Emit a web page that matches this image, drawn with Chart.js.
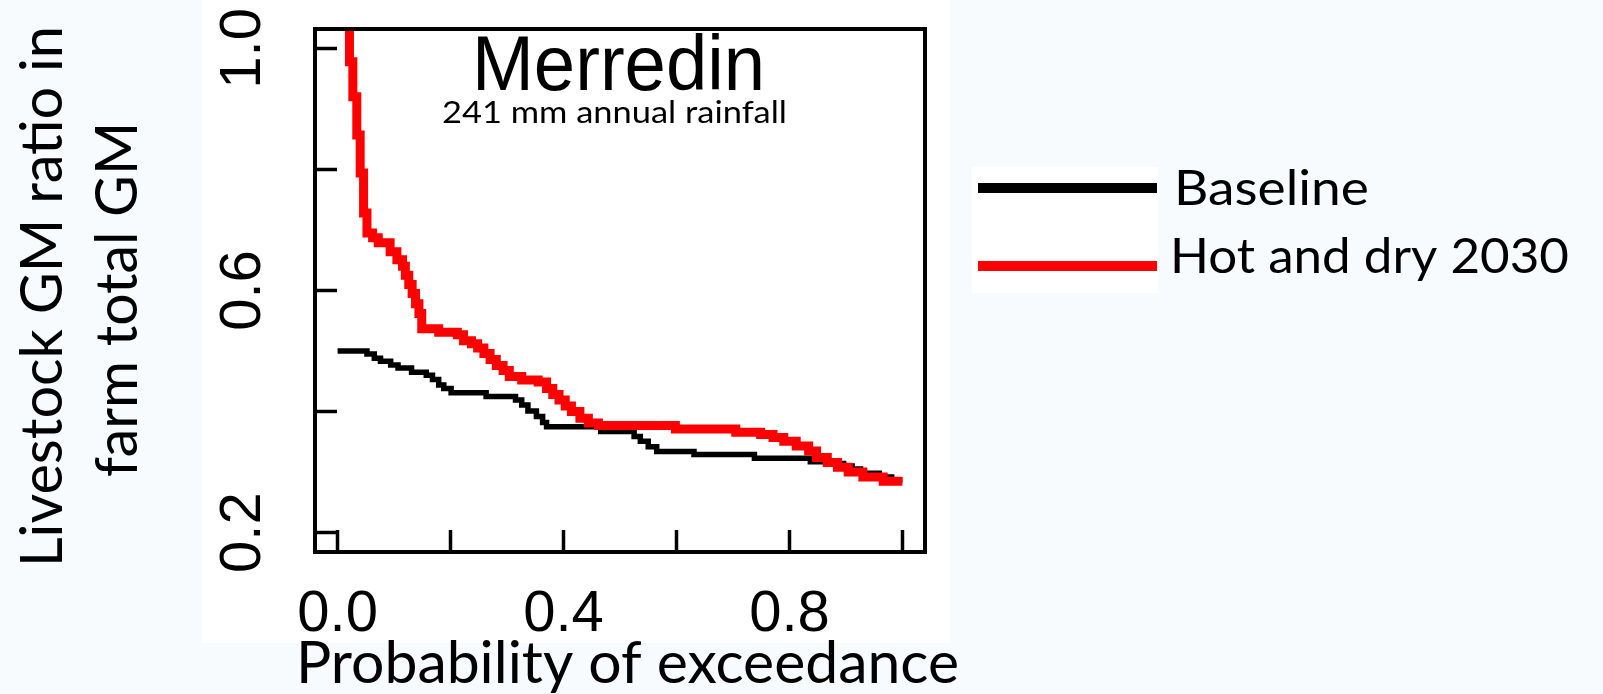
<!DOCTYPE html>
<html>
<head>
<meta charset="utf-8">
<script src="https://cdn.jsdelivr.net/npm/chart.js@4.4.1/dist/chart.umd.min.js"></script>
<style>
    html, body { margin: 0; padding: 0; background: #f7fbfe; }
    #wrap { width: 1603px; height: 694px; }
</style>
</head>
<body>
<div id="wrap"><canvas id="chart" width="1603" height="694"></canvas></div>
<script>
// axis ticks
var xTicks = [0, 0.2, 0.4, 0.6, 0.8, 1.0]
var xTickLabels = ["0.0", "", "0.4", "", "0.8", ""]
var yTicks = [0.2, 0.4, 0.6, 0.8, 1.0]
var yTickLabels = ["0.2", "", "0.6", "", "1.0"]

// Baseline (black) - probability of exceedance vs ratio
var baselineX = [0.000, 0.052, 0.065, 0.076, 0.094, 0.107, 0.131, 0.157, 0.168, 0.179, 0.188, 0.201, 0.263, 0.315, 0.326, 0.337, 0.352, 0.363, 0.370, 0.466, 0.525, 0.536, 0.550, 0.565, 0.631, 0.738, 0.837, 0.885, 0.896, 0.911, 0.926, 0.959, 0.981, 1.000]
var baselineY = [0.500, 0.495, 0.488, 0.483, 0.477, 0.472, 0.465, 0.460, 0.453, 0.444, 0.438, 0.431, 0.425, 0.419, 0.411, 0.401, 0.392, 0.382, 0.375, 0.367, 0.359, 0.351, 0.342, 0.334, 0.329, 0.323, 0.317, 0.314, 0.310, 0.305, 0.298, 0.292, 0.287, 0.287]

// Hot and dry 2030 (red)
var hotDryX = [0.000, 0.021, 0.027, 0.034, 0.040, 0.046, 0.052, 0.062, 0.072, 0.093, 0.105, 0.115, 0.120, 0.126, 0.132, 0.138, 0.144, 0.149, 0.179, 0.212, 0.223, 0.237, 0.248, 0.259, 0.270, 0.281, 0.293, 0.304, 0.326, 0.355, 0.370, 0.381, 0.392, 0.403, 0.414, 0.429, 0.444, 0.462, 0.598, 0.705, 0.749, 0.771, 0.790, 0.812, 0.834, 0.848, 0.867, 0.885, 0.904, 0.930, 0.966, 1.000]
var hotDryY = [1.100, 0.978, 0.920, 0.857, 0.794, 0.728, 0.695, 0.687, 0.679, 0.664, 0.651, 0.640, 0.625, 0.610, 0.595, 0.578, 0.562, 0.537, 0.531, 0.527, 0.517, 0.512, 0.505, 0.496, 0.486, 0.476, 0.468, 0.458, 0.452, 0.449, 0.438, 0.428, 0.419, 0.409, 0.400, 0.389, 0.381, 0.377, 0.371, 0.366, 0.362, 0.357, 0.351, 0.343, 0.335, 0.324, 0.316, 0.308, 0.300, 0.292, 0.285, 0.285]

var seriesNames = ["Baseline", "Hot and dry 2030"]
var seriesColors = ["#000000", "#ff0000"]
var xTitle = "Probability of exceedance"
var yTitle = ["Livestock GM ratio in", "farm total GM"]

function toPoints(xs, ys) {
    var pts = []
    for (var i = 0; i < xs.length; i++) {
        pts.push({ x: xs[i], y: ys[i] })
    }
    return pts
}

// draw text squeezed/stretched to a given width (optionally turned to read bottom-up)
function fitText(ctx, text, font, left, baseline, width, upright) {
    ctx.save()
    ctx.font = font
    ctx.textAlign = "left"
    ctx.textBaseline = "alphabetic"
    var w = ctx.measureText(text).width
    if (upright) {
        // left = y where the text starts (bottom), baseline = x of the baseline
        ctx.translate(baseline, left)
        ctx.rotate(-Math.PI / 2)
    } else {
        ctx.translate(left, baseline)
    }
    ctx.scale(width / w, 1)
    ctx.fillStyle = "#000"
    ctx.fillText(text, 0, 0)
    ctx.restore()
}

var backdrop = {
    id: "backdrop",
    beforeDraw: function (chart) {
        var ctx = chart.ctx
        ctx.save()
        ctx.fillStyle = "#f7fbfe"
        ctx.fillRect(0, 0, chart.width, chart.height)
        ctx.fillStyle = "#ffffff"
        ctx.fillRect(202, 0, 748, 643)
        ctx.fillRect(972, 167, 186, 126)
        ctx.restore()
    }
}

var frameAndText = {
    id: "frameAndText",
    afterDatasetsDraw: function (chart) {
        var ctx = chart.ctx
        var a = chart.chartArea
        ctx.save()
        ctx.strokeStyle = "#000"
        ctx.lineWidth = 4
        ctx.strokeRect(a.left, a.top, a.right - a.left, a.bottom - a.top)
        ctx.restore()

        fitText(ctx, "Merredin", "78px 'Liberation Sans'", 472, 90, 293)
        fitText(ctx, "241 mm annual rainfall", "31px Lato", 442, 123, 345)

        // axis titles
        fitText(ctx, xTitle, "58px Lato", 296, 683, 663)
        fitText(ctx, yTitle[0], "58px Lato", 567, 62, 541, true)
        fitText(ctx, yTitle[1], "58px Lato", 477, 137, 355, true)

        // legend
        var ys = [188, 266]
        var textBase = [205, 273]
        var textLeft = [1174, 1170]
        var textW = [195, 399]
        for (var i = 0; i < seriesNames.length; i++) {
            ctx.save()
            ctx.fillStyle = chart.data.datasets[i].borderColor
            ctx.fillRect(978, ys[i] - 5, 179, 10)
            ctx.restore()
            fitText(ctx, seriesNames[i], "48px Lato", textLeft[i], textBase[i], textW[i])
        }
    }
}

var ctx = document.getElementById("chart").getContext("2d")
var chart = new Chart(ctx, {
    type: "line",
    data: {
        datasets: [{
            label: seriesNames[0],
            data: toPoints(baselineX, baselineY),
            borderColor: seriesColors[0],
            backgroundColor: seriesColors[0],
            borderWidth: 5.5,
            stepped: true,
            pointRadius: 0,
            fill: false,
            clip: 0,
            order: 2
        }, {
            label: seriesNames[1],
            data: toPoints(hotDryX, hotDryY),
            borderColor: seriesColors[1],
            backgroundColor: seriesColors[1],
            borderWidth: 9,
            stepped: true,
            pointRadius: 0,
            fill: false,
            clip: 0,
            order: 1
        }]
    },
    options: {
        responsive: false,
        animation: false,
        devicePixelRatio: 1,
        layout: { padding: { left: 0, right: 678, top: 29, bottom: 0 } },
        plugins: {
            legend: { display: false },
            tooltip: { enabled: false }
        },
        scales: {
            x: {
                type: "linear",
                min: -0.04,
                max: 1.04,
                afterBuildTicks: function (scale) {
                    scale.ticks = xTicks.map(function (v) { return { value: v } })
                },
                afterFit: function (scale) {
                    scale.height = 142
                    scale.paddingLeft = 0
                    scale.paddingRight = 0
                },
                ticks: {
                    autoSkip: false,
                    maxRotation: 0,
                    padding: 56,
                    color: "#000",
                    font: { family: "'Liberation Sans'", size: 58, lineHeight: 1.0 },
                    callback: function (value, index) { return xTickLabels[index] }
                },
                grid: { drawOnChartArea: false, color: "#000", tickLength: -22, tickWidth: 3.5 },
                border: { display: false }
            },
            y: {
                type: "linear",
                min: 0.168,
                max: 1.032,
                afterBuildTicks: function (scale) {
                    scale.ticks = yTicks.map(function (v) { return { value: v } })
                },
                afterFit: function (scale) {
                    scale.width = 315
                    scale.paddingTop = 0
                    scale.paddingBottom = 0
                },
                ticks: {
                    autoSkip: false,
                    minRotation: 90,
                    maxRotation: 90,
                    crossAlign: "center",
                    padding: 53,
                    color: "#000",
                    font: { family: "'Liberation Sans'", size: 58, lineHeight: 1.0 },
                    callback: function (value, index) { return yTickLabels[index] }
                },
                grid: { drawOnChartArea: false, color: "#000", tickLength: -22, tickWidth: 3.5 },
                border: { display: false }
            }
        }
    },
    plugins: [backdrop, frameAndText]
})
</script>
</body>
</html>
